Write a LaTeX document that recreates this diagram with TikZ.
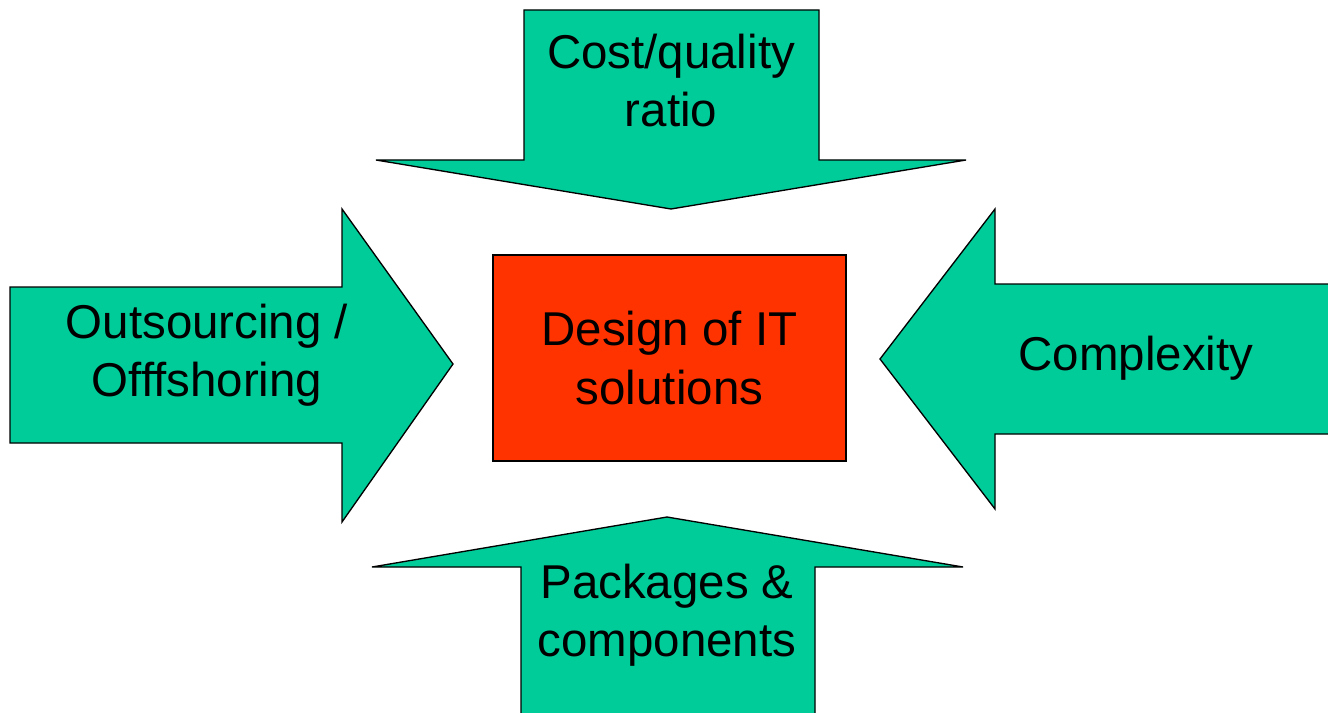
\documentclass[tikz,border=0pt]{standalone}
\usepackage{fontspec}
\setmainfont{Liberation Sans}
\definecolor{forcegreen}{HTML}{00CC99}
\definecolor{designred}{HTML}{FF3300}
\tikzset{
    force/.style={draw=black, fill=forcegreen, line width=1pt, line join=miter},
    forcetext/.style={font=\fontsize{35.6}{43.75}\selectfont, align=center, inner sep=0pt},
    core/.style={draw=black, fill=designred, line width=1pt, minimum width=264.75pt, minimum height=154.5pt,
        font=\fontsize{35.6}{43.75}\selectfont, align=center, inner sep=0pt}
}
\begin{document}
\begin{tikzpicture}[x=0.75pt, y=-0.75pt]
    \useasboundingbox (0,0) rectangle (1328,713);
    % the four forces
    \draw[force] (524,10) -- (819,10) -- (819,160) -- (966,160) -- (671,209) -- (376,160) -- (524,160) -- cycle;
    \draw[force] (10,287) -- (342,287) -- (342,209) -- (453,364) -- (342,522) -- (342,443) -- (10,443) -- cycle;
    \draw[force] (1340,284) -- (995,284) -- (995,209) -- (880,359) -- (995,509) -- (995,434) -- (1340,434) -- cycle;
    \draw[force] (521,720) -- (521,567) -- (372,567) -- (667,517) -- (963,567) -- (815,567) -- (815,720) -- cycle;
    \node[forcetext] (cost) at (671,80.5) {Cost/quality\\ratio};
    \node[forcetext] (outsourcing) at (207,355) {Outsourcing /\\Offfshoring};
    \node[forcetext] (complexity) at (1136,358) {Complexity};
    \node[forcetext] (packages) at (667,615) {Packages \&\\components};
    % what they push on
    \node[core] (design) at (669.5,358) {Design of IT\\solutions};
\end{tikzpicture}
\end{document}
